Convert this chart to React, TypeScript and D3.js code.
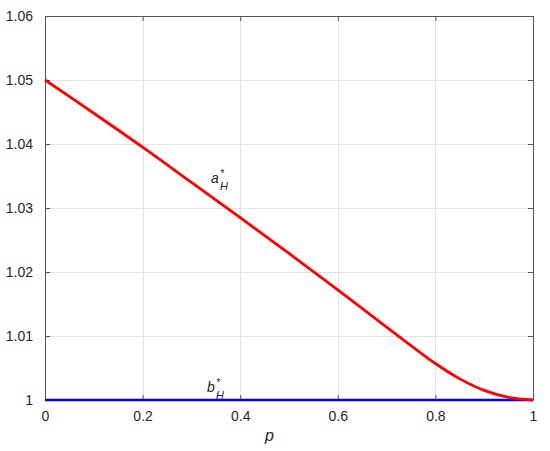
import React, { useEffect, useRef } from 'react'
import * as d3 from 'd3'

// data
const pValues = [0, 0.1, 0.2, 0.3, 0.4, 0.5, 0.6, 0.7, 0.75, 0.8, 0.85, 0.9, 0.95, 1]
const aValues = [1.05, 1.0448, 1.0395, 1.0340, 1.0285, 1.0229, 1.0172, 1.0114, 1.0085, 1.0057, 1.0033, 1.0015, 1.0004, 1.0]
const bValues = [1, 1, 1, 1, 1, 1, 1, 1, 1, 1, 1, 1, 1, 1]
const xTicks = [0, 0.2, 0.4, 0.6, 0.8, 1]
const yTicks = [1, 1.01, 1.02, 1.03, 1.04, 1.05, 1.06]

const width = 550,
      height = 451,
      left = 45,
      right = 533,
      top = 16,
      bottom = 400
const font = 'Liberation Sans, Arial, Helvetica, sans-serif'

const App = () => {
  const ref = useRef<SVGSVGElement>(null)

  useEffect(() => {
    const svg = d3.select(ref.current)
    svg.selectAll('*').remove()

    const x = d3.scaleLinear().domain([0, 1]).range([left, right])
    const y = d3.scaleLinear().domain([1, 1.06]).range([bottom, top])
    const fmt = (d: d3.NumberValue) => String(+(+d).toFixed(2))

    svg.append('rect')
       .attr('width', width).attr('height', height).attr('fill', '#fff')

    // grid
    const grid = svg.append('g').attr('stroke', '#e3e3e3').attr('stroke-width', 1)
    xTicks.slice(1, -1).forEach(t => {
      grid.append('line')
          .attr('x1', Math.round(x(t)) + 0.5).attr('x2', Math.round(x(t)) + 0.5)
          .attr('y1', top).attr('y2', bottom)
    })
    yTicks.slice(1, -1).forEach(t => {
      grid.append('line')
          .attr('y1', Math.round(y(t)) + 0.5).attr('y2', Math.round(y(t)) + 0.5)
          .attr('x1', left).attr('x2', right)
    })

    // axes, box with inner ticks
    const xAxis = d3.axisBottom(x).tickValues(xTicks).tickSizeInner(-5).tickSizeOuter(0).tickPadding(11).tickFormat(fmt)
    const yAxis = d3.axisLeft(y).tickValues(yTicks).tickSizeInner(-5).tickSizeOuter(0).tickPadding(12).tickFormat(fmt)
    const xTop = d3.axisTop(x).tickValues(xTicks).tickSizeInner(-5).tickSizeOuter(0).tickFormat(() => '')
    const yRight = d3.axisRight(y).tickValues(yTicks).tickSizeInner(-5).tickSizeOuter(0).tickFormat(() => '')

    const axes = [
      svg.append('g').attr('transform', `translate(0, ${bottom})`).call(xAxis),
      svg.append('g').attr('transform', `translate(${left}, 0)`).call(yAxis),
      svg.append('g').attr('transform', `translate(0, ${top})`).call(xTop),
      svg.append('g').attr('transform', `translate(${right}, 0)`).call(yRight)
    ]
    axes.forEach(g => {
      g.selectAll('path, line').attr('stroke', '#555')
      g.selectAll('text').attr('fill', '#262626')
       .style('font-family', font).style('font-size', '14px')
    })

    // lines
    const line = d3.line<number>()
                   .x((d, i) => x(pValues[i]))
                   .y(d => y(d))
                   .curve(d3.curveCatmullRom)

    svg.append('path')
       .attr('d', line(bValues))
       .attr('fill', 'none').attr('stroke', '#0000ff').attr('stroke-width', 2.5)
    svg.append('path')
       .attr('d', line(aValues))
       .attr('fill', 'none').attr('stroke', '#ff0000').attr('stroke-width', 2.8)

    // labels
    const label = (name: string, px: number, py: number) => {
      const g = svg.append('g').style('font-family', font).attr('fill', '#262626')
      g.append('text').attr('x', px).attr('y', py)
       .style('font-style', 'italic').style('font-size', '14px').text(name)
      g.append('text').attr('x', px + 9).attr('y', py + 7)
       .style('font-style', 'italic').style('font-size', '11px').text('H')
      g.append('text').attr('x', px + 9.5).attr('y', py - 6)
       .style('font-size', '10px').text('*')
    }
    label('a', 211, 183)
    label('b', 207, 392)

    svg.append('text')
       .attr('x', x(0.46)).attr('y', 441)
       .attr('text-anchor', 'middle')
       .style('font-family', font).style('font-style', 'italic').style('font-size', '16px')
       .attr('fill', '#262626')
       .text('p')
  }, [])

  return (
    <svg ref={ref} width={width} height={height}
         style={{ position: 'absolute', left: 0, top: 0 }} />
  )
}

export default App
